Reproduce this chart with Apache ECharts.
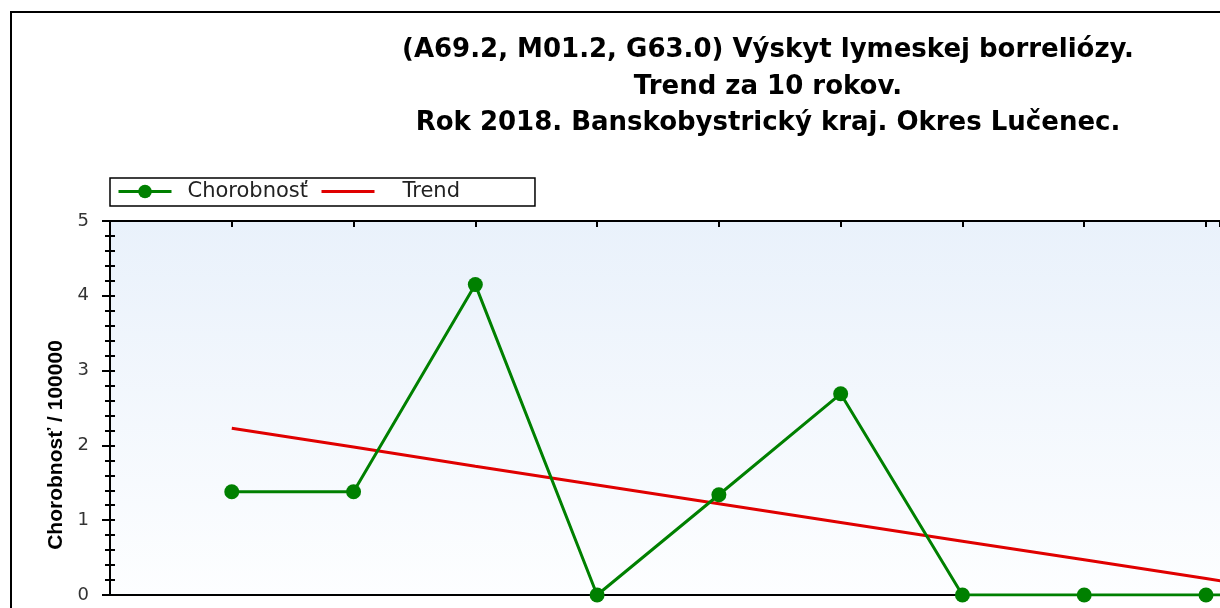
<!DOCTYPE html>
<html>
<head>
<meta charset="utf-8">
<script src="https://cdn.jsdelivr.net/npm/echarts@6/dist/echarts.min.js"></script>
<style>
  html, body { margin: 0; padding: 0; background: #fff; overflow: hidden; }
  #chart { width: 1220px; height: 608px; }
</style>
</head>
<body>
<div id="chart"></div>
<script>
// roky (x os)
var years = [2009, 2010, 2011, 2012, 2013, 2014, 2015, 2016, 2017, 2018]
// chorobnost na 100000
var incidence = [1.38, 1.38, 4.15, 0, 1.34, 2.69, 0, 0, 0, 0]
// linearny trend odcitany z grafu
var trend = [2.23, 1.98, 1.72, 1.47, 1.22, 0.97, 0.72, 0.47, 0.22, -0.03]
var yTicks = [0, 1, 2, 3, 4, 5]

var myChart = echarts.init(document.getElementById('chart'))

function pairs(xs, ys) {
  return xs.map(function (x, i) { return [x, ys[i]] })
}

var option = {
  backgroundColor: '#fff',
  animation: false,
  title: {
    text: '(A69.2, M01.2, G63.0) Výskyt lymeskej borreliózy.\nTrend za 10 rokov.\nRok 2018. Banskobystrický kraj. Okres Lučenec.',
    left: 768,
    top: 32,
    padding: 0,
    textAlign: 'center',
    textStyle: {
      fontFamily: 'DejaVu Sans',
      fontWeight: 'bold',
      fontSize: 26,
      lineHeight: 36.5,
      color: '#000'
    }
  },
  legend: {
    left: 110,
    top: 178,
    orient: 'horizontal',
    backgroundColor: '#fff',
    borderColor: '#000',
    borderWidth: 1.5,
    borderRadius: 0,
    padding: [3, 75, 4, 7],
    itemWidth: 53,
    itemHeight: 17,
    itemGap: 12,
    lineStyle: { width: 3 },
    textStyle: {
      fontFamily: 'DejaVu Sans',
      fontSize: 21,
      color: '#222'
    },
    data: [
      { name: 'Chorobnosť', textStyle: { padding: [0, 0, 0, 11] } },
      { name: 'Trend', itemStyle: { opacity: 0 }, textStyle: { padding: [0, 0, 0, 23] } }
    ]
  },
  grid: {
    left: 110,
    right: -2,
    top: 221,
    bottom: 13,
    show: true,
    borderWidth: 0,
    backgroundColor: new echarts.graphic.LinearGradient(0, 0, 0, 1, [
      { offset: 0, color: '#e9f1fb' },
      { offset: 1, color: '#fdfeff' }
    ])
  },
  xAxis: [
    {
      type: 'value',
      min: 2008,
      max: 2017.115,
      interval: 1,
      position: 'bottom',
      axisLine: { show: true, onZero: false, lineStyle: { color: '#000', width: 2 } },
      axisTick: { show: false },
      axisLabel: { show: false },
      splitLine: { show: false }
    },
    {
      type: 'value',
      min: 2008,
      max: 2017.115,
      interval: 1,
      position: 'top',
      axisLine: { show: true, onZero: false, lineStyle: { color: '#000', width: 2 } },
      axisTick: { show: true, inside: true, length: 6, lineStyle: { color: '#000', width: 2 } },
      axisLabel: { show: false },
      splitLine: { show: false }
    }
  ],
  yAxis: [
    {
      type: 'value',
      min: yTicks[0],
      max: yTicks[yTicks.length - 1],
      interval: 1,
      name: 'Chorobnosť / 100000',
      nameLocation: 'middle',
      nameRotate: 90,
      nameGap: 42,
      nameTextStyle: {
        fontFamily: 'Liberation Sans',
        fontWeight: 'bold',
        fontSize: 21,
        color: '#000',
        padding: [0, 74, 0, 0]
      },
      axisLine: { show: true, onZero: false, lineStyle: { color: '#000', width: 2 } },
      axisTick: { show: true, length: 8, lineStyle: { color: '#000', width: 2 } },
      minorTick: { show: true, splitNumber: 5, length: 5, lineStyle: { color: '#000', width: 2 } },
      axisLabel: {
        margin: 21,
        fontFamily: 'DejaVu Sans',
        fontSize: 18,
        color: '#333'
      },
      splitLine: { show: false },
      minorSplitLine: { show: false }
    },
    {
      type: 'value',
      position: 'left',
      offset: 0,
      min: yTicks[0],
      max: yTicks[yTicks.length - 1],
      interval: 1,
      axisLine: { show: false, onZero: false },
      axisTick: { show: true, inside: true, length: 5, lineStyle: { color: '#000', width: 2 } },
      minorTick: { show: true, splitNumber: 5, length: 5, lineStyle: { color: '#000', width: 2 } },
      axisLabel: { show: false },
      splitLine: { show: false }
    }
  ],
  graphic: [
    {
      type: 'rect',
      z: -10,
      silent: true,
      shape: { x: 11, y: 12, width: 1400, height: 800 },
      style: { fill: 'none', stroke: '#000', lineWidth: 2 }
    }
  ],
  series: [
    {
      name: 'Chorobnosť',
      type: 'line',
      xAxisIndex: 0,
      yAxisIndex: 0,
      symbol: 'circle',
      symbolSize: 15,
      showSymbol: true,
      clip: true,
      itemStyle: { color: '#008000' },
      lineStyle: { color: '#008000', width: 3 },
      data: pairs(years, incidence),
      z: 3
    },
    {
      name: 'Trend',
      type: 'line',
      xAxisIndex: 0,
      yAxisIndex: 0,
      symbol: 'none',
      clip: true,
      itemStyle: { color: '#e00000' },
      lineStyle: { color: '#e00000', width: 3 },
      data: pairs(years, trend),
      z: 2
    }
  ]
}

option && myChart.setOption(option)
</script>
</body>
</html>
